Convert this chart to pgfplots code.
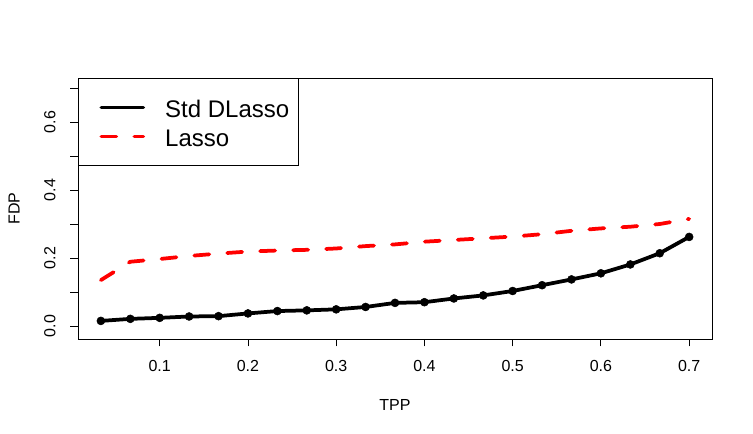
\documentclass[border=0pt]{standalone}
\usepackage{fontspec}
\setmainfont{Liberation Sans}
\usepackage{pgfplots}
\pgfplotsset{compat=1.18}

\pgfplotstableread{
x       dlasso  lasso
0.03333 0.015   0.135
0.06667 0.021   0.189
0.10000 0.024   0.197
0.13333 0.028   0.206
0.16667 0.029   0.213
0.20000 0.037   0.219
0.23333 0.044   0.222
0.26667 0.046   0.224
0.30000 0.049   0.228
0.33333 0.056   0.235
0.36667 0.068   0.240
0.40000 0.070   0.248
0.43333 0.081   0.253
0.46667 0.090   0.258
0.50000 0.103   0.263
0.53333 0.120   0.270
0.56667 0.137   0.280
0.60000 0.155   0.287
0.63333 0.181   0.292
0.66667 0.214   0.300
0.70000 0.262   0.315
}\fdptable

\begin{document}
\begin{tikzpicture}
\path[use as bounding box] (0pt,0pt) rectangle (753pt,434pt);
\begin{axis}[
    at={(78pt,95pt)}, anchor=south west,
    scale only axis, width=634pt, height=261pt,
    xmin=0.0074, xmax=0.7259,
    ymin=-0.0382, ymax=0.7294,
    xtick={0.1,0.2,0.3,0.4,0.5,0.6,0.7},
    xticklabels={0.1,0.2,0.3,0.4,0.5,0.6,0.7},
    ytick={0,0.1,0.2,0.3,0.4,0.5,0.6,0.7},
    yticklabels={0.0,,0.2,,0.4,,0.6,},
    xtick pos=bottom, ytick pos=left,
    tick align=outside,
    major tick length=7.5pt,
    tick style={black, line width=0.9pt},
    axis line style={line width=0.9pt},
    xticklabel style={font=\fontsize{16}{19}\selectfont, anchor=north,
        inner sep=0pt, text height=11.5pt, text depth=0pt, yshift=-13pt},
    yticklabel style={font=\fontsize{16}{19}\selectfont, xshift=-15pt,
        rotate=90, anchor=south, inner sep=0pt, text height=11.5pt, text depth=0pt},
    xlabel={TPP},
    ylabel={FDP},
    xlabel style={at={(axis description cs:0.5,-0.2529)}, anchor=center,
        font=\fontsize{16}{19}\selectfont, inner sep=0pt, text height=11.5pt, text depth=0pt},
    ylabel style={at={(axis description cs:-0.101,0.5)}, anchor=center,
        font=\fontsize{16}{19}\selectfont, inner sep=0pt, text height=11.5pt, text depth=0pt},
    legend cell align=left,
    legend style={at={(0,1)}, anchor=north west, draw=black, line width=0.9pt,
        inner xsep=21pt, inner ysep=18.5pt, row sep=8pt,
        font=\fontsize{24}{28}\selectfont,
        /tikz/every odd column/.append style={column sep=20pt},
        /tikz/every even column/.append style={nodes={inner sep=0pt,
            text height=21pt, text depth=0pt}}},
    legend image code/.code={
        \draw[#1] (2pt,0pt) -- (44pt,0pt);
    },
]
\addplot[black, line width=3.75pt, line cap=round, line join=round,
    mark=*, mark size=4pt, mark options={solid, line width=0.5pt, fill=black}]
    table[x=x, y=dlasso] {\fdptable};
\addlegendentry{\makebox[112pt][l]{Std DLasso}}
\addplot[red, line width=3.75pt, line cap=round, line join=round,
    dash pattern=on 15pt off 18pt]
    table[x=x, y=lasso] {\fdptable};
\addlegendentry{\makebox[112pt][l]{Lasso}}
\end{axis}
\end{tikzpicture}
\end{document}
